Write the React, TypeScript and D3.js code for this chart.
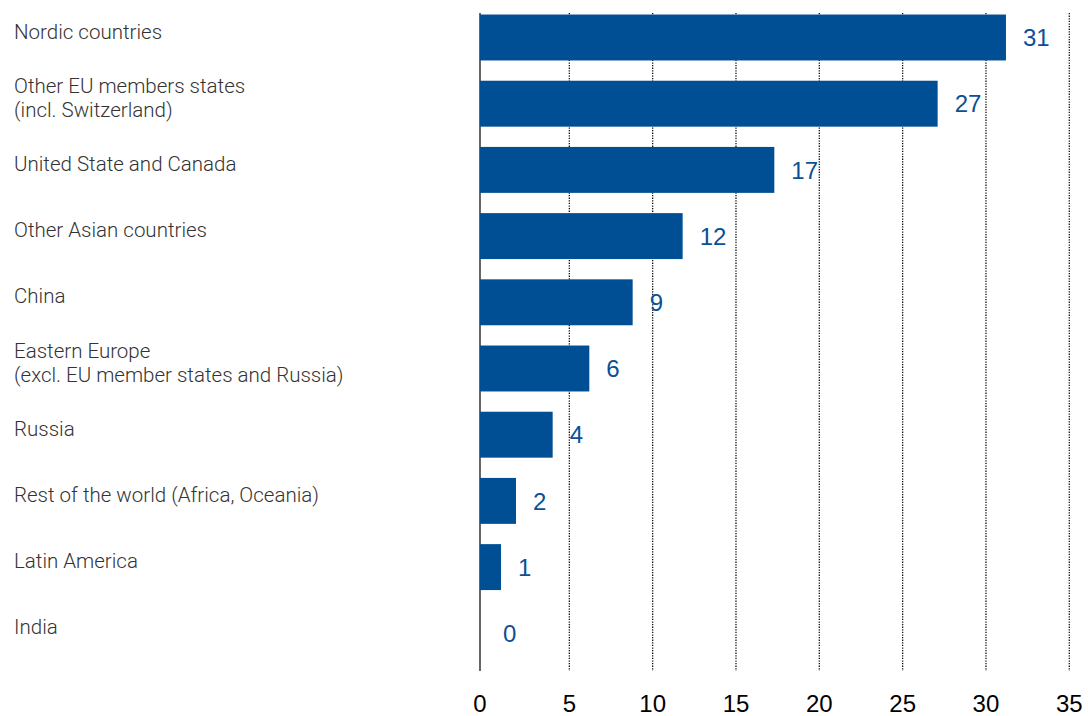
import React from "react";
import * as d3 from "d3";

const categories: string[][] = [
  ["Nordic countries"],
  ["Other EU members states", "(incl. Switzerland)"],
  ["United State and Canada"],
  ["Other Asian countries"],
  ["China"],
  ["Eastern Europe", "(excl. EU member states and Russia)"],
  ["Russia"],
  ["Rest of the world (Africa, Oceania)"],
  ["Latin America"],
  ["India"],
];
const values: number[] = [31.2, 27.1, 17.3, 11.8, 8.8, 6.2, 4.0, 1.8, 0.9, 0];
const valueLabels: string[] = ["31", "27", "17", "12", "9", "6", "4", "2", "1", "0"];
const ticks: number[] = [0, 5, 10, 15, 20, 25, 30, 35];

const W = 1088;
const H = 716;
const BLUE = "#004f94";
const NUM_FONT = "'Liberation Sans', Arial, Helvetica, sans-serif";
const CAT_FONT = "Roboto, 'Liberation Sans', Arial, sans-serif";

export default function App() {
  const x = d3.scaleLinear().domain([0, 35]).range([486, 1069.3]);
  const axisX = x(0) - 6;
  const y = d3
    .scaleBand<number>()
    .domain(d3.range(values.length))
    .range([4.4, 666.4])
    .paddingInner(0.306)
    .paddingOuter(0.153);
  const gridTop = 13;
  const gridBottom = 671;
  const bw = y.bandwidth();

  return (
    <svg
      width={W}
      height={H}
      style={{ position: "absolute", left: 0, top: 0, background: "#fff" }}
    >
      {ticks
        .filter((t) => t > 0)
        .map((t) => (
          <line
            key={"g" + t}
            x1={x(t)}
            x2={x(t)}
            y1={gridTop}
            y2={gridBottom}
            stroke="#111"
            strokeWidth={1.3}
            strokeDasharray="1.3,1.3"
          />
        ))}
      <line x1={axisX} x2={axisX} y1={gridTop} y2={gridBottom} stroke="#000" strokeWidth={1.2} />
      {values.map((v, i) => (
        <rect
          key={"b" + i}
          x={axisX}
          y={y(i)!}
          width={v > 0 ? x(v) - axisX : 0}
          height={bw}
          fill={BLUE}
        />
      ))}
      {values.map((v, i) => (
        <text
          key={"v" + i}
          x={(v > 0 ? x(v) : x(0)) + 17}
          y={y(i)! + bw / 2}
          dy="0.36em"
          fill="#0b4f96"
          fontFamily={NUM_FONT}
          fontSize={24}
        >
          {valueLabels[i]}
        </text>
      ))}
      {categories.map((lines, i) => {
        const cy = y(i)! + bw / 2 - 6;
        const lh = 24;
        const startY = cy - ((lines.length - 1) * lh) / 2;
        return (
          <text
            key={"c" + i}
            x={14}
            fill="#333"
            fontFamily={CAT_FONT}
            fontWeight={300}
            fontSize={20.5}
          >
            {lines.map((l, j) => (
              <tspan key={j} x={14} y={startY + j * lh} dy="0.35em">
                {l}
              </tspan>
            ))}
          </text>
        );
      })}
      {ticks.map((t) => (
        <text
          key={"t" + t}
          x={t === 0 ? axisX : x(t)}
          y={703}
          dy="0.36em"
          textAnchor="middle"
          fill="#000"
          fontFamily={NUM_FONT}
          fontSize={24}
        >
          {t}
        </text>
      ))}
    </svg>
  );
}
